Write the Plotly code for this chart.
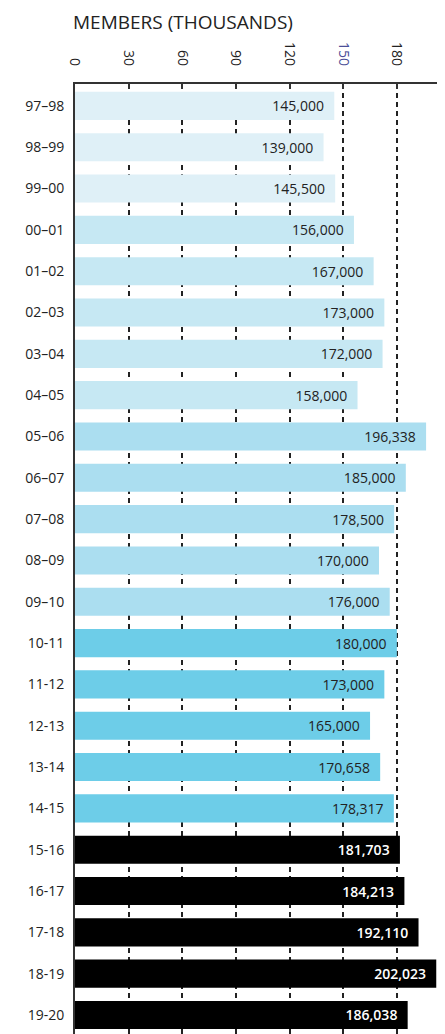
import plotly.graph_objects as go

seasons = ["97–98", "98–99", "99–00", "00–01", "01–02", "02–03", "03–04", "04–05",
           "05–06", "06–07", "07–08", "08–09", "09–10", "10-11", "11-12", "12-13",
           "13-14", "14-15", "15-16", "16-17", "17-18", "18-19", "19-20"]
members = [145000, 139000, 145500, 156000, 167000, 173000, 172000, 158000,
           196338, 185000, 178500, 170000, 176000, 180000, 173000, 165000,
           170658, 178317, 181703, 184213, 192110, 202023, 186038]
bar_colors = (["#dff0f7"] * 3 + ["#c6e8f3"] * 5 + ["#abdef0"] * 5 +
              ["#6dcde8"] * 5 + ["#000000"] * 5)
text_colors = ["#222222"] * 18 + ["#ffffff"] * 5
text_weights = [400] * 18 + [600] * 5
tick_vals = [0, 30, 60, 90, 120, 150, 180, 210]
tick_text = ["0", "30", "60", "90", "120",
             "<span style='color:#4b4f98'>150</span>", "180", "210"]

x_k = [v / 1000 for v in members]
labels = [f"{v:,}\u00a0\u00a0" for v in members]

fig = go.Figure(go.Bar(
    y=seasons, x=x_k, orientation="h",
    marker=dict(color=bar_colors, line=dict(width=0)),
    width=0.68,
    text=labels, textposition="inside", insidetextanchor="end",
    textfont=dict(family="Open Sans", size=14, color=text_colors,
                  weight=text_weights),
    cliponaxis=False, hoverinfo="skip",
))

# page body has an 8px default margin: figure is sized/offset to compensate
fig.update_layout(
    width=437, height=1026,
    margin=dict(l=67, r=7, t=76, b=0),
    paper_bgcolor="white", plot_bgcolor="white",
    showlegend=False,
    title=dict(text="MEMBERS (THOUSANDS)", xref="container", yref="container",
               x=65 / 437, xanchor="left", y=1 - 14 / 1026, yanchor="middle",
               font=dict(family="Open Sans", size=19, color="#222222")),
    font=dict(family="Open Sans", color="#222222"),
)
fig.update_xaxes(
    side="top", range=[0, 203], automargin=False,
    tickvals=tick_vals, ticktext=tick_text, tickangle=90,
    tickfont=dict(family="Open Sans", size=14, color="#222222"),
    ticks="inside", ticklen=5, tickwidth=1.5, tickcolor="#333333",
    ticklabelstandoff=11,
    showline=True, linecolor="#333333", linewidth=2, mirror=False,
    showgrid=True, gridcolor="#222222", gridwidth=1.5, griddash="5px,4px",
    zeroline=False, fixedrange=True,
)
fig.update_yaxes(
    type="category", categoryorder="array", categoryarray=seasons,
    autorange=False, range=[22.46, -0.53], automargin=False,
    tickfont=dict(family="Open Sans", size=14, color="#222222"),
    ticks="", ticklabelstandoff=6,
    showline=True, linecolor="#333333", linewidth=2, mirror=True,
    layer="below traces",
    showgrid=False, zeroline=False, fixedrange=True,
)

fig.write_html("out.html")
